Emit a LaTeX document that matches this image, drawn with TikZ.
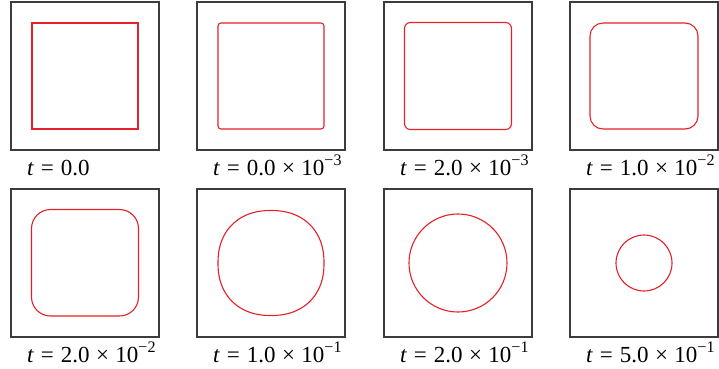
\documentclass[tikz,border=0pt]{standalone}
\usepackage{fontspec}
\setmainfont{Liberation Serif}
\definecolor{curve}{RGB}{228,32,40}
\definecolor{frame}{RGB}{60,60,60}
\newcommand{\tlab}[1]{\textit{t}\hspace{0.3em}=\hspace{0.3em}#1}
\newcommand{\tpow}[2]{#1\hspace{0.28em}×\hspace{0.28em}10\textsuperscript{−#2}}

\begin{document}
\begin{tikzpicture}[x=1pt,y=-1pt,font=\fontsize{23}{25}\selectfont,
  box/.style={draw=frame,line width=1.3pt},
  curve/.style={draw=curve,line width=1.1pt}]
\useasboundingbox (0,0) rectangle (719,368);
% panels and labels
\foreach \n/\x/\y/\l in {1/11/2/{0.0},2/197/2/{\tpow{0.0}{3}},3/384/2/{\tpow{2.0}{3}},4/570/2/{\tpow{1.0}{2}},
  5/11/189/{\tpow{2.0}{2}},6/197/189/{\tpow{1.0}{1}},7/384/189/{\tpow{2.0}{1}},8/570/189/{\tpow{5.0}{1}}}
  {\draw[box] (\x,\y) rectangle ++(148,148);
   \coordinate (c\n) at (\x+74,\y+74);
   \node[anchor=base west,inner sep=0pt] (lab\n) at (\x+16,\y+173) {\tlab{\l}};}
% square to circle
\draw[curve] ([shift={(-53,-53)}]c1) rectangle ([shift={(53,53)}]c1);
\draw[curve,rounded corners=3pt] ([shift={(-53,-53)}]c2) rectangle ([shift={(53,53)}]c2);
\draw[curve,rounded corners=6pt] ([shift={(-53.5,-53.5)}]c3) rectangle ([shift={(53.5,53.5)}]c3);
\draw[curve,rounded corners=13pt] ([shift={(-54,-53)}]c4) rectangle ([shift={(54,53)}]c4);
\draw[curve,rounded corners=19pt] ([shift={(-53.5,-53.5)}]c5) rectangle ([shift={(53.5,53)}]c5);
\begin{scope}[shift={(c6)}]
  \draw[curve] plot[domain=1:361,samples=121,smooth,variable=\t]
    ({53*sign(cos(\t))*pow(abs(cos(\t)),0.9)},{52.5*sign(sin(\t))*pow(abs(sin(\t)),0.9)}) -- cycle;
\end{scope}
\draw[curve] (c7) circle[radius=49];
\draw[curve] (c8) circle[radius=28];
\end{tikzpicture}
\end{document}
